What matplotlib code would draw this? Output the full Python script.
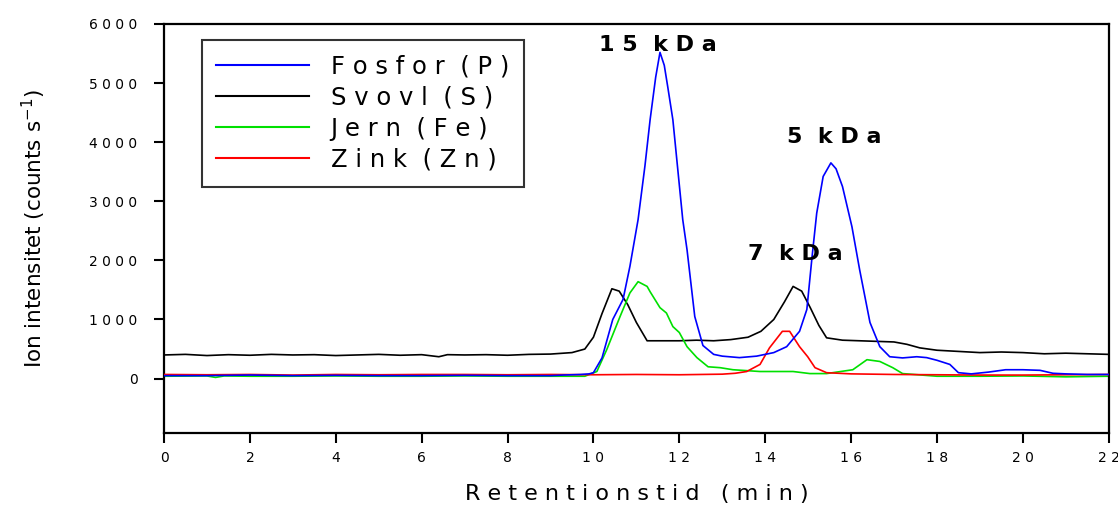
import matplotlib
matplotlib.use("Agg")
import matplotlib.pyplot as plt

# ---------------- data ----------------
p_time = [0, 1, 2, 3, 4, 5, 6, 7, 8, 9, 9.3, 9.7, 9.9, 10.0, 10.2, 10.45, 10.69, 10.85,
          11.04, 11.2, 11.32, 11.45, 11.55, 11.65, 11.73, 11.85, 12.08, 12.18, 12.36,
          12.55, 12.8, 13.0, 13.4, 13.8, 14.2, 14.5, 14.8, 14.97, 15.09, 15.2, 15.35,
          15.53, 15.65, 15.8, 16.02, 16.2, 16.44, 16.67, 16.9, 17.2, 17.53, 17.76,
          18.0, 18.3, 18.5, 18.8, 19.2, 19.6, 20.0, 20.4, 20.7, 21.0, 21.5, 22]
p_vals = [50, 50, 60, 50, 55, 50, 50, 55, 50, 50, 60, 70, 80, 100, 350, 1000, 1340, 1900,
          2690, 3600, 4380, 5100, 5520, 5300, 4940, 4380, 2690, 2180, 1050,
          560, 410, 380, 355, 380, 440, 540, 800, 1170, 2050, 2800, 3420,
          3650, 3550, 3250, 2570, 1840, 950, 540, 370, 350, 370, 355,
          310, 240, 100, 80, 110, 150, 150, 140, 90, 80, 70, 70]

s_time = [0, 0.5, 1, 1.5, 2, 2.5, 3, 3.5, 4, 4.5, 5, 5.5, 6, 6.4, 6.6, 7, 7.5, 8, 8.5,
          9, 9.5, 9.8, 10.0, 10.2, 10.43, 10.6, 10.8, 11.0, 11.25, 11.6, 12, 12.4,
          12.8, 13.2, 13.6, 13.9, 14.2, 14.45, 14.65, 14.85, 15.05, 15.25, 15.43,
          15.8, 16.2, 16.6, 17.0, 17.3, 17.6, 18.0, 18.5, 19.0, 19.5, 20.0, 20.5,
          21.0, 21.5, 22]
s_vals = [400, 410, 390, 405, 395, 410, 400, 405, 390, 400, 410, 395, 405, 370, 405, 400,
          405, 395, 410, 415, 440, 500, 700, 1100, 1520, 1480, 1250, 950, 640, 640, 640,
          650, 640, 660, 700, 800, 1000, 1300, 1560, 1480, 1200, 900, 690,
          650, 640, 630, 620, 580, 520, 480, 460, 440, 450, 440, 420,
          430, 420, 410]

fe_time = [0, 1, 1.2, 1.4, 2, 3, 4, 5, 6, 7, 8, 9, 9.8, 10.08, 10.31, 10.62, 10.85,
           11.04, 11.25, 11.32, 11.55, 11.7, 11.85, 12.0, 12.18, 12.41, 12.67, 12.95,
           13.25, 13.88, 14.65, 15.04, 15.43, 16.04, 16.37, 16.67, 16.97, 17.2, 18,
           19, 20, 21, 21.5, 22]
fe_vals = [40, 45, 20, 45, 40, 40, 45, 40, 40, 45, 40, 40, 40, 120, 490, 1050, 1450,
           1640, 1560, 1470, 1200, 1110, 880, 780, 540, 355, 200, 185,
           150, 120, 120, 85, 85, 150, 320, 290, 185, 85, 40,
           40, 45, 30, 35, 40]

zn_time = [0, 1, 2, 3, 4, 5, 6, 7, 8, 9, 10, 11, 12, 13, 13.3, 13.57, 13.88, 14.1,
           14.4, 14.57, 14.8, 14.99, 15.16, 15.43, 16, 17, 18, 19, 20, 21, 22]
zn_vals = [70, 65, 70, 60, 70, 65, 70, 70, 65, 70, 65, 70, 65, 75, 90, 120, 240, 520,
           800, 800, 540, 370, 185, 100, 80, 70, 65, 60, 60, 65, 70]

series_labels = ["F o s f o r  ( P )", "S v o v l  ( S )", "J e r n  ( F e )", "Z i n k  ( Z n )"]
series_colors = ["#0000ff", "#000000", "#00e000", "#ff0000"]

x_ticks = [0, 2, 4, 6, 8, 10, 12, 14, 16, 18, 20, 22]
y_ticks = [0, 1000, 2000, 3000, 4000, 5000, 6000]

annotations = [("1 5  k D a", 11.5, 5650), ("5  k D a", 15.6, 4080), ("7  k D a", 14.7, 2100)]

# ---------------- figure ----------------
fig = plt.figure(figsize=(11.18, 5.07), dpi=100)
ax = fig.add_axes([0.1467, 0.146, 0.845, 0.8067])

lw = 1.2
hp, = ax.plot(p_time, p_vals, color=series_colors[0], lw=lw, zorder=3)
hs, = ax.plot(s_time, s_vals, color=series_colors[1], lw=lw, zorder=2)
hf, = ax.plot(fe_time, fe_vals, color=series_colors[2], lw=lw, zorder=2.5)
hz, = ax.plot(zn_time, zn_vals, color=series_colors[3], lw=lw, zorder=2.6)

ax.set_xlim(0, 22)
ax.set_ylim(-920, 6000)
ax.set_xticks(x_ticks)
ax.set_xticklabels([" ".join(str(t)) for t in x_ticks], fontsize=10)
ax.set_yticks(y_ticks)
ax.set_yticklabels([" ".join(str(t)) for t in y_ticks], fontsize=10)
ax.tick_params(axis="x", direction="out", length=7, width=1.5, pad=6)
ax.tick_params(axis="y", direction="out", length=7, width=1.5, pad=12)

for sp in ax.spines.values():
    sp.set_linewidth(1.6)

ax.set_xlabel("R e t e n t i o n s t i d   ( m i n )", fontsize=16, labelpad=14)
ax.set_ylabel("Ion intensitet (counts s$^{\\mathregular{-1}}$)", fontsize=15.5, labelpad=30)

for txt, xx, yy in annotations:
    ax.text(xx, yy, txt, fontsize=16, fontweight="bold", ha="center", va="center")

leg = ax.legend([hp, hs, hf, hz], series_labels, loc="upper left",
                bbox_to_anchor=(0.04, 0.962), fontsize=17.5, frameon=True,
                fancybox=False, edgecolor="black", handlelength=3.8,
                handletextpad=0.9, labelspacing=0.3, borderpad=0.6,
                borderaxespad=0)
leg.get_frame().set_linewidth(1.5)
for h in leg.get_lines():
    h.set_linewidth(1.5)

fig.savefig("out.png", dpi=100)
